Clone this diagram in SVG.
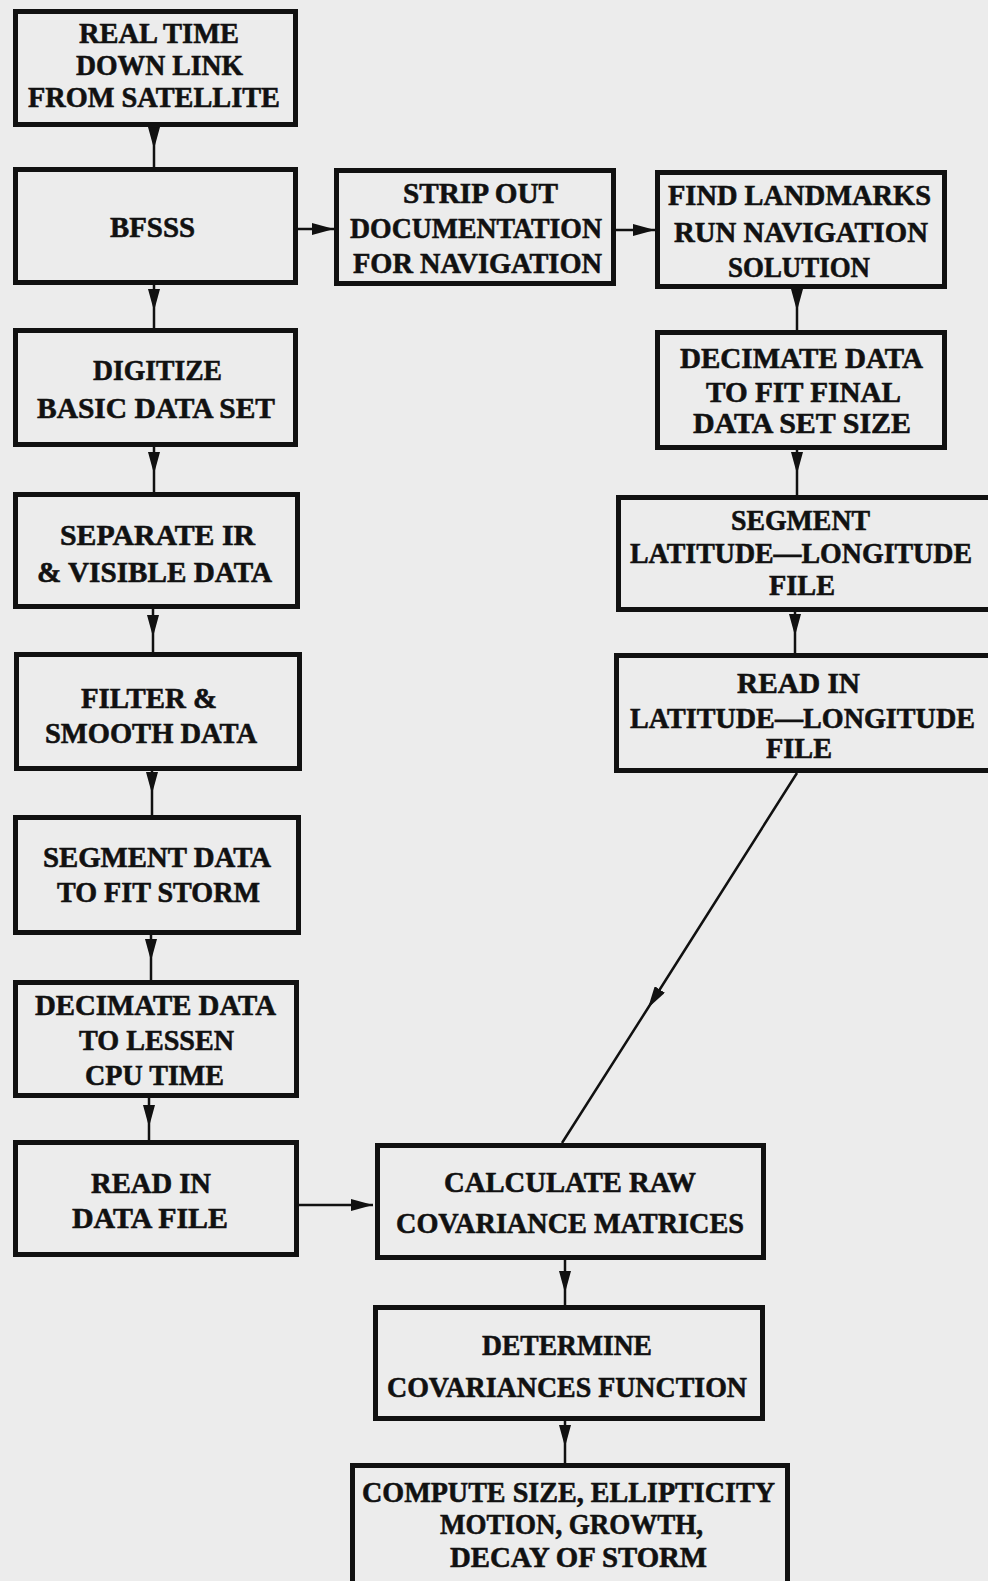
<svg xmlns="http://www.w3.org/2000/svg" width="988" height="1581" viewBox="0 0 988 1581">
<style>
.bg{fill:#ececec}
.box{fill:none;stroke:#111;stroke-width:5}
.t{font-family:"Liberation Serif","DejaVu Serif",serif;font-weight:bold;font-size:30px;fill:#111;stroke:#111;stroke-width:0.6;text-anchor:middle}
.c{fill:none;stroke:#111;stroke-width:2.5}
</style>
<defs>
<marker id="ah" viewBox="0 0 22 12" refX="22" refY="6" markerWidth="22" markerHeight="12" markerUnits="userSpaceOnUse" orient="auto">
<path d="M0,0 L22,6 L0,12 Z" fill="#111"/>
</marker>
</defs>
<rect class="bg" x="0" y="0" width="988" height="1581"/>
<g id="connectors">
<path class="c" d="M154,127 L154,149 L154,168" marker-mid="url(#ah)"/>
<path class="c" d="M154,285 L154,311 L154,328" marker-mid="url(#ah)"/>
<path class="c" d="M154,447 L154,474 L154,492" marker-mid="url(#ah)"/>
<path class="c" d="M153,609 L153,637 L153,652" marker-mid="url(#ah)"/>
<path class="c" d="M152,771 L152,794 L152,815" marker-mid="url(#ah)"/>
<path class="c" d="M151,935 L151,961 L151,980" marker-mid="url(#ah)"/>
<path class="c" d="M149,1098 L149,1127 L149,1140" marker-mid="url(#ah)"/>
<path class="c" d="M797,289 L797,311 L797,330" marker-mid="url(#ah)"/>
<path class="c" d="M797,450 L797,474 L797,495" marker-mid="url(#ah)"/>
<path class="c" d="M795,612 L795,636 L795,653" marker-mid="url(#ah)"/>
<path class="c" d="M797,773 L648,1008 L562,1143" marker-mid="url(#ah)"/>
<path class="c" d="M565,1260 L565,1293 L565,1305" marker-mid="url(#ah)"/>
<path class="c" d="M565,1421 L565,1447 L565,1465" marker-mid="url(#ah)"/>
<path class="c" d="M298,229 L334,229" marker-end="url(#ah)"/>
<path class="c" d="M616,230 L655,230" marker-end="url(#ah)"/>
<path class="c" d="M299,1205 L373,1205" marker-end="url(#ah)"/>
</g>
<g id="n1"><rect class="box" x="15.5" y="11.5" width="280" height="113"/>
<text class="t" x="159" y="43" textLength="160" lengthAdjust="spacingAndGlyphs">REAL TIME</text>
<text class="t" x="159.5" y="75" textLength="167" lengthAdjust="spacingAndGlyphs">DOWN LINK</text>
<text class="t" x="154" y="107" textLength="252" lengthAdjust="spacingAndGlyphs">FROM SATELLITE</text></g>
<g id="n2"><rect class="box" x="15.5" y="169.5" width="280" height="113"/>
<text class="t" x="152.5" y="237" textLength="85" lengthAdjust="spacingAndGlyphs">BFSSS</text></g>
<g id="n3"><rect class="box" x="336.5" y="170.5" width="277" height="113"/>
<text class="t" x="480.5" y="203" textLength="155" lengthAdjust="spacingAndGlyphs">STRIP OUT</text>
<text class="t" x="476" y="238" textLength="252" lengthAdjust="spacingAndGlyphs">DOCUMENTATION</text>
<text class="t" x="477.5" y="273" textLength="249" lengthAdjust="spacingAndGlyphs">FOR NAVIGATION</text></g>
<g id="n4"><rect class="box" x="657.5" y="172.5" width="287" height="114"/>
<text class="t" x="799.5" y="205" textLength="263" lengthAdjust="spacingAndGlyphs">FIND LANDMARKS</text>
<text class="t" x="801" y="242" textLength="254" lengthAdjust="spacingAndGlyphs">RUN NAVIGATION</text>
<text class="t" x="799" y="277" textLength="142" lengthAdjust="spacingAndGlyphs">SOLUTION</text></g>
<g id="n5"><rect class="box" x="15.5" y="330.5" width="280" height="114"/>
<text class="t" x="157.5" y="380" textLength="129" lengthAdjust="spacingAndGlyphs">DIGITIZE</text>
<text class="t" x="156" y="418" textLength="238" lengthAdjust="spacingAndGlyphs">BASIC DATA SET</text></g>
<g id="n6"><rect class="box" x="657.5" y="332.5" width="287" height="115"/>
<text class="t" x="801.5" y="368" textLength="243" lengthAdjust="spacingAndGlyphs">DECIMATE DATA</text>
<text class="t" x="803.5" y="402" textLength="195" lengthAdjust="spacingAndGlyphs">TO FIT FINAL</text>
<text class="t" x="802" y="433" textLength="218" lengthAdjust="spacingAndGlyphs">DATA SET SIZE</text></g>
<g id="n7"><rect class="box" x="15.5" y="494.5" width="282" height="112"/>
<text class="t" x="157.5" y="545" textLength="195" lengthAdjust="spacingAndGlyphs">SEPARATE IR</text>
<text class="t" x="154.5" y="582" textLength="235" lengthAdjust="spacingAndGlyphs">&amp; VISIBLE DATA</text></g>
<g id="n8"><rect class="box" x="618.5" y="497.5" width="380" height="112"/>
<text class="t" x="800.5" y="530" textLength="139" lengthAdjust="spacingAndGlyphs">SEGMENT</text>
<text class="t" x="801" y="563" textLength="342" lengthAdjust="spacingAndGlyphs">LATITUDE—LONGITUDE</text>
<text class="t" x="802" y="595" textLength="66" lengthAdjust="spacingAndGlyphs">FILE</text></g>
<g id="n9"><rect class="box" x="16.5" y="654.5" width="283" height="114"/>
<text class="t" x="149" y="708" textLength="136" lengthAdjust="spacingAndGlyphs">FILTER &amp;</text>
<text class="t" x="151" y="743" textLength="212" lengthAdjust="spacingAndGlyphs">SMOOTH DATA</text></g>
<g id="n10"><rect class="box" x="616.5" y="655.5" width="380" height="115"/>
<text class="t" x="798.5" y="693" textLength="123" lengthAdjust="spacingAndGlyphs">READ IN</text>
<text class="t" x="802.5" y="728" textLength="345" lengthAdjust="spacingAndGlyphs">LATITUDE—LONGITUDE</text>
<text class="t" x="799" y="758" textLength="66" lengthAdjust="spacingAndGlyphs">FILE</text></g>
<g id="n11"><rect class="box" x="15.5" y="817.5" width="283" height="115"/>
<text class="t" x="157" y="867" textLength="228" lengthAdjust="spacingAndGlyphs">SEGMENT DATA</text>
<text class="t" x="158.5" y="902" textLength="203" lengthAdjust="spacingAndGlyphs">TO FIT STORM</text></g>
<g id="n12"><rect class="box" x="15.5" y="982.5" width="281" height="113"/>
<text class="t" x="155.5" y="1015" textLength="241" lengthAdjust="spacingAndGlyphs">DECIMATE DATA</text>
<text class="t" x="156.5" y="1050" textLength="155" lengthAdjust="spacingAndGlyphs">TO LESSEN</text>
<text class="t" x="154.5" y="1085" textLength="139" lengthAdjust="spacingAndGlyphs">CPU TIME</text></g>
<g id="n13"><rect class="box" x="15.5" y="1142.5" width="281" height="112"/>
<text class="t" x="151" y="1193" textLength="120" lengthAdjust="spacingAndGlyphs">READ IN</text>
<text class="t" x="150" y="1228" textLength="156" lengthAdjust="spacingAndGlyphs">DATA FILE</text></g>
<g id="n14"><rect class="box" x="377.5" y="1145.5" width="386" height="112"/>
<text class="t" x="570" y="1192" textLength="252" lengthAdjust="spacingAndGlyphs">CALCULATE RAW</text>
<text class="t" x="570" y="1233" textLength="348" lengthAdjust="spacingAndGlyphs">COVARIANCE MATRICES</text></g>
<g id="n15"><rect class="box" x="375.5" y="1307.5" width="387" height="111"/>
<text class="t" x="567" y="1355" textLength="170" lengthAdjust="spacingAndGlyphs">DETERMINE</text>
<text class="t" x="567" y="1397" textLength="360" lengthAdjust="spacingAndGlyphs">COVARIANCES FUNCTION</text></g>
<g id="n16"><rect class="box" x="352.5" y="1465.5" width="435" height="122"/>
<text class="t" x="568.5" y="1502" textLength="413" lengthAdjust="spacingAndGlyphs">COMPUTE SIZE, ELLIPTICITY</text>
<text class="t" x="571.5" y="1534" textLength="263" lengthAdjust="spacingAndGlyphs">MOTION, GROWTH,</text>
<text class="t" x="578.5" y="1567" textLength="257" lengthAdjust="spacingAndGlyphs">DECAY OF STORM</text></g>
</svg>
